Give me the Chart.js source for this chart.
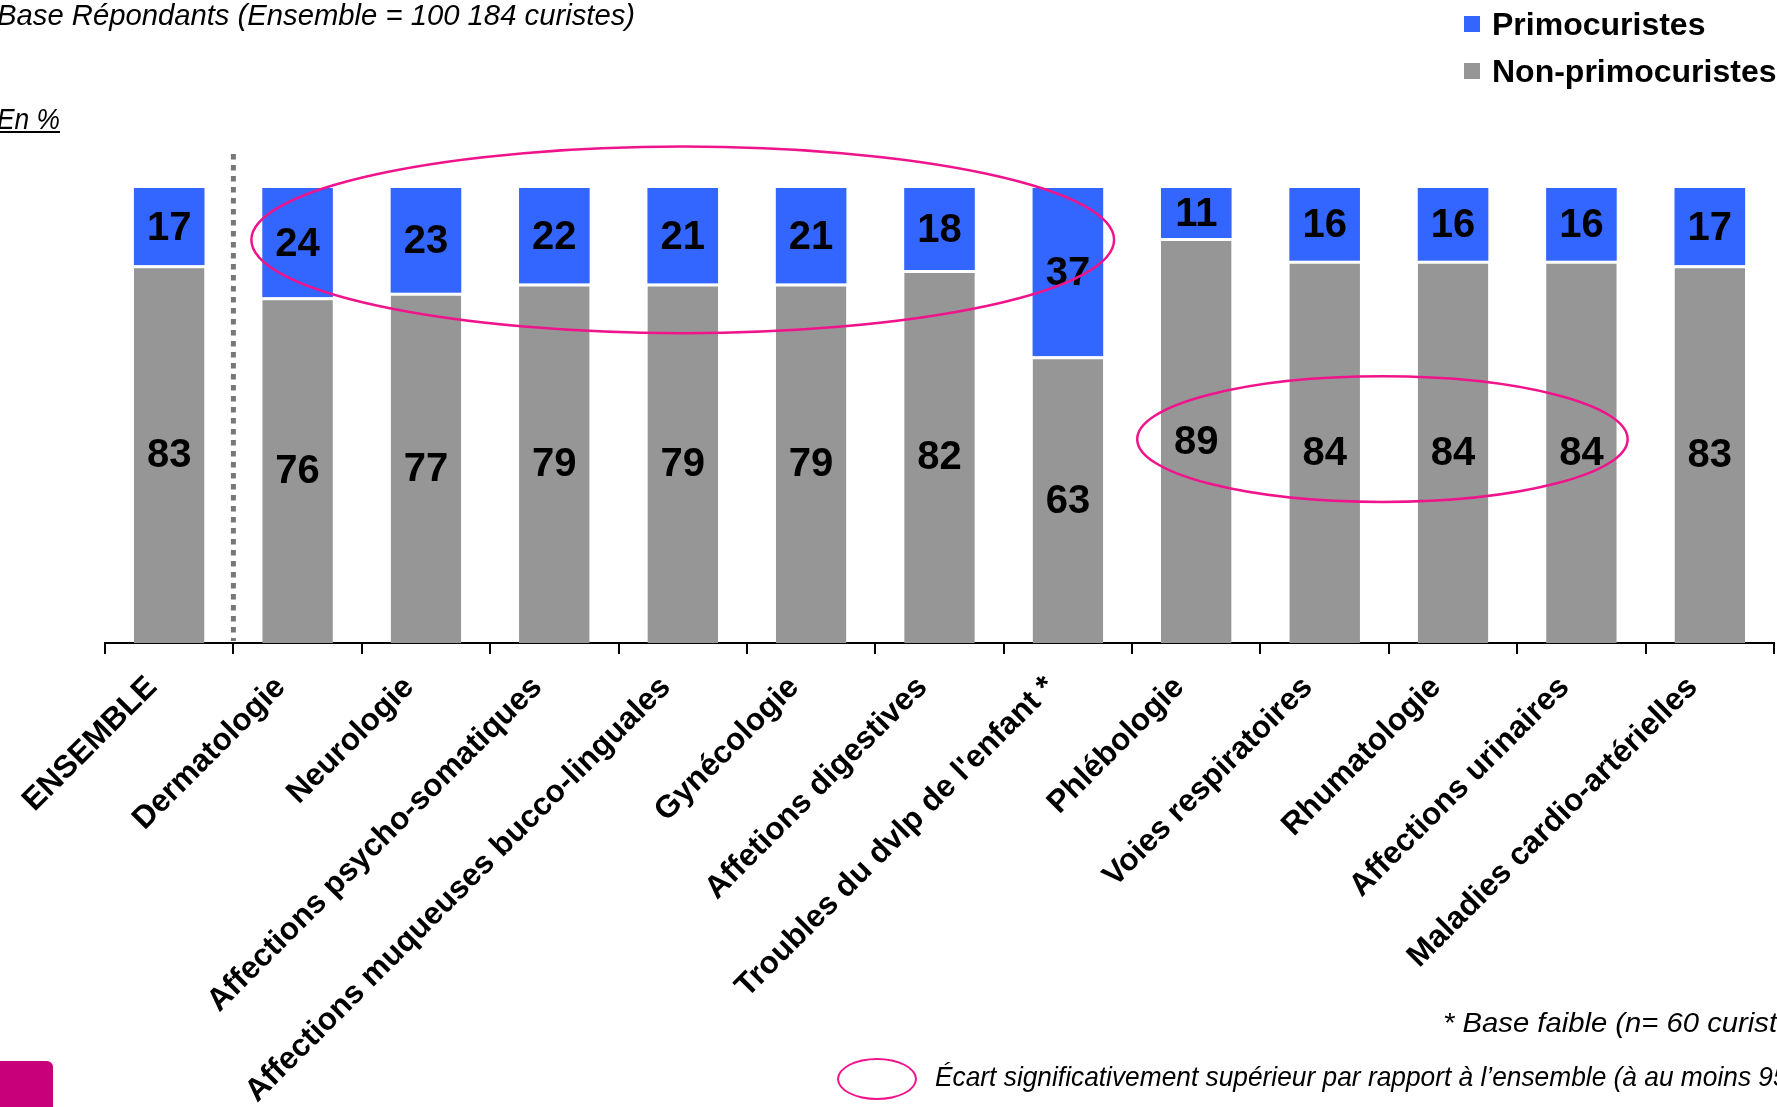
<!DOCTYPE html>
<html><head><meta charset="utf-8">
<script src="https://cdn.jsdelivr.net/npm/chart.js@4.4.1/dist/chart.umd.min.js"></script>
<style>
html,body{margin:0;padding:0;background:#fff;overflow:hidden;width:1777px;height:1107px;}
#wrap{position:relative;width:1777px;height:1107px;overflow:hidden;background:#fff;}
canvas{position:absolute;left:0;top:0;}
.note{position:absolute;white-space:nowrap;font-family:"Liberation Sans Narrow","Arial Narrow","Liberation Sans",Arial,sans-serif;font-style:italic;color:#000;transform-origin:0 50%;line-height:1;}
.leg{position:absolute;font-family:"Liberation Sans",Arial,sans-serif;font-weight:bold;font-size:32px;white-space:nowrap;line-height:1;color:#000;}
.sw{position:absolute;width:16px;height:16px;}
</style></head>
<body>
<div id="wrap">
<canvas id="c" width="1777" height="1107"></canvas>
<div class="note" id="n1" style="left:-3px;top:1px;font-size:29px;">Base Répondants (Ensemble = 100 184 curistes)</div>
<div class="note" id="n2" style="left:-3px;top:105px;font-size:29px;text-decoration:underline;">En %</div>
<div class="note" id="n3" style="left:1443px;top:1009px;font-size:28px;">* Base faible (n= 60 curistes)</div>
<div class="note" id="n4" style="left:935px;top:1063px;font-size:28px;">Écart significativement supérieur par rapport à l’ensemble (à au moins 95%)</div>
<div style="position:absolute;left:837px;top:1058px;width:76px;height:38px;border:2.5px solid #f0148c;border-radius:50%;"></div>
<div style="position:absolute;left:0;top:1061px;width:53px;height:60px;background:#c8007a;border-top-right-radius:6px;"></div>
<div id="legend"></div>
</div>
<script>
const categories = ["ENSEMBLE","Dermatologie","Neurologie","Affections psycho-somatiques","Affections muqueuses bucco-linguales","Gynécologie","Affetions digestives","Troubles du dvlp de l'enfant *","Phlébologie","Voies respiratoires","Rhumatologie","Affections urinaires","Maladies cardio-artérielles"];
const primocuristes = [17,24,23,22,21,21,18,37,11,16,16,16,17];
const nonPrimocuristes = [83,76,77,79,79,79,82,63,89,84,84,84,83];
const seriesNames = ["Primocuristes","Non-primocuristes"];
const seriesColors = ["#3366ff","#969696"];

// significance ellipses (category-index centre, half width in categories, value centre, half height in value units)
const highlights = [
  {ci:4.0, hw:3.36, cv:88.6, hh:20.5},
  {ci:9.45, hw:1.91, cv:44.8, hh:13.8}
];

// legend
const leg = document.getElementById('legend');
seriesNames.forEach((n,i)=>{
  const cy = i===0 ? 24 : 71;
  const sw = document.createElement('div'); sw.className='sw';
  sw.style.left='1464px'; sw.style.top=(cy-8)+'px'; sw.style.background=seriesColors[i];
  const t = document.createElement('div'); t.className='leg'; t.textContent=n;
  t.style.left='1492px'; t.style.top=(cy-16)+'px';
  leg.appendChild(sw); leg.appendChild(t);
});

// fit notes
function fit(id, prefix, width){
  const el=document.getElementById(id);
  const cs=getComputedStyle(el);
  const cv=document.createElement('canvas').getContext('2d');
  cv.font = cs.fontStyle+' '+cs.fontWeight+' '+cs.fontSize+' '+cs.fontFamily;
  const w = cv.measureText(prefix).width;
  el.style.transform='scaleX('+(width/w)+')';
}
fit('n1','Base Répondants (Ensemble = 100 184 curistes)',638);
fit('n2','En %',63);
fit('n3','* Base faible (n= 60 curist',334);
fit('n4','Écart significativement supérieur par rapport à l’ensemble (à au moins 9',838);

Chart.defaults.font.family = '"Liberation Sans", Arial, sans-serif';
Chart.defaults.color = '#000';

const overlay = {
  id:'overlay',
  afterDatasetsDraw(chart){
    const ctx=chart.ctx, xs=chart.scales.x, ys=chart.scales.y, ca=chart.chartArea;
    const p0=xs.getPixelForValue(0), step=xs.getPixelForValue(1)-p0;
    ctx.save();
    // dotted separator after ENSEMBLE
    const sx=p0+step/2;
    ctx.strokeStyle='#777'; ctx.lineWidth=5; ctx.setLineDash([5.5,5.5]);
    ctx.beginPath(); ctx.moveTo(sx, ys.getPixelForValue(107.5)); ctx.lineTo(sx, ca.bottom-2); ctx.stroke();
    ctx.setLineDash([]);
    // value labels
    ctx.font='bold 40px "Liberation Sans", Arial, sans-serif';
    ctx.fillStyle='#000'; ctx.textAlign='center'; ctx.textBaseline='middle';
    chart.data.datasets.forEach((ds,di)=>{
      chart.getDatasetMeta(di).data.forEach((bar,i)=>{
        const top=Math.max(bar.y, ca.top);
        ctx.fillText(String(ds.data[i]), bar.x, (top+bar.base)/2+2);
      });
    });
    // ellipses
    ctx.strokeStyle='#f0148c'; ctx.lineWidth=2.5;
    highlights.forEach(h=>{
      const cx=p0+h.ci*step, rx=h.hw*step;
      const cy=ys.getPixelForValue(h.cv), ry=Math.abs(ys.getPixelForValue(h.cv+h.hh)-cy);
      ctx.beginPath(); ctx.ellipse(cx,cy,rx,ry,0,0,Math.PI*2); ctx.stroke();
    });
    ctx.restore();
  }
};

new Chart(document.getElementById('c'),{
  type:'bar',
  data:{
    labels:categories,
    datasets:[
      {label:seriesNames[1], data:nonPrimocuristes, backgroundColor:seriesColors[1], borderColor:'#ffffff', borderWidth:{top:3,left:0,right:0,bottom:0}, borderSkipped:false},
      {label:seriesNames[0], data:primocuristes, backgroundColor:seriesColors[0], borderWidth:0}
    ]
  },
  options:{
    responsive:false, animation:false, devicePixelRatio:1,
    layout:{padding:{left:105,right:3,top:188,bottom:0}},
    plugins:{legend:{display:false}, tooltip:{enabled:false}},
    datasets:{bar:{categoryPercentage:1, barPercentage:0.55}},
    scales:{
      x:{stacked:true,
        grid:{display:true,drawOnChartArea:false,drawTicks:true,tickLength:11,color:'#000',lineWidth:2,offset:true},
        border:{display:true,color:'#000',width:2},
        ticks:{autoSkip:false,minRotation:45,maxRotation:45,padding:15,labelOffset:-17,font:{size:31.5,weight:'bold'},color:'#000'},
        afterFit(s){ s.height=464; }
      },
      y:{stacked:true,display:false,min:0,max:100}
    }
  },
  plugins:[overlay]
});
</script>
</body></html>
